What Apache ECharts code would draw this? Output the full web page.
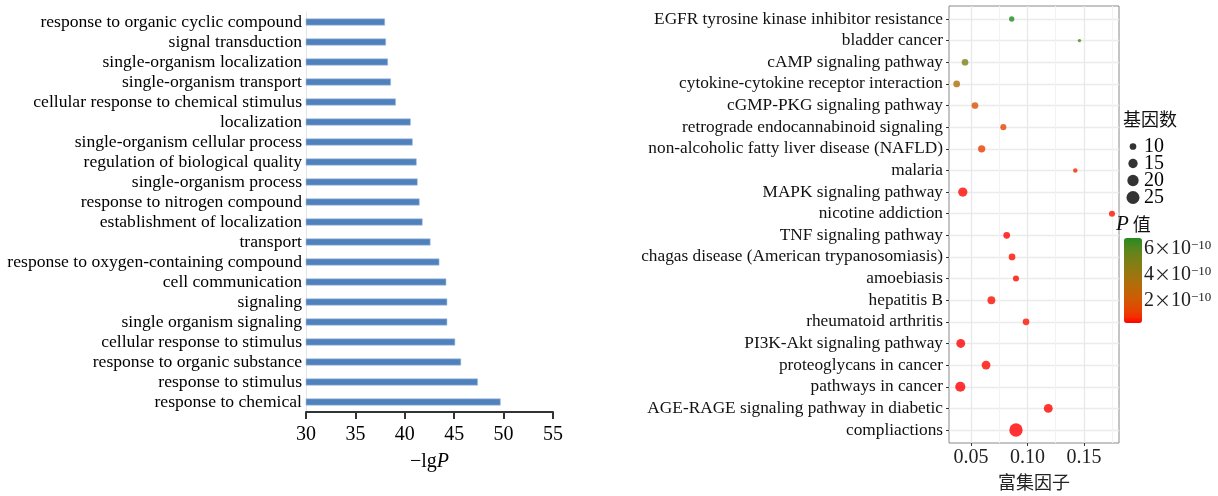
<!DOCTYPE html>
<html>
<head>
<meta charset="utf-8">
<script src="https://cdn.jsdelivr.net/npm/echarts@6/dist/echarts.min.js"></script>
<style>html,body{margin:0;padding:0;background:#fff}#c{width:1218px;height:496px}</style>
</head>
<body>
<div id="c"></div>
<script>
// ---------- Left panel: GO terms (top to bottom) ----------
var goTerms = [
  'response to organic cyclic compound','signal transduction','single-organism localization',
  'single-organism transport','cellular response to chemical stimulus','localization',
  'single-organism cellular process','regulation of biological quality','single-organism process',
  'response to nitrogen compound','establishment of localization','transport',
  'response to oxygen-containing compound','cell communication','signaling',
  'single organism signaling','cellular response to stimulus','response to organic substance',
  'response to stimulus','response to chemical'
];
var goLgP = [38.0,38.1,38.3,38.6,39.1,40.6,40.8,41.2,41.3,41.5,41.8,42.6,43.5,44.2,44.3,44.3,45.1,45.7,47.4,49.7];
var lgPTicks = [30,35,40,45,50,55];

// ---------- Right panel: KEGG pathways (top to bottom) ----------
var keggTerms = [
  'EGFR tyrosine kinase inhibitor resistance','bladder cancer','cAMP signaling pathway',
  'cytokine-cytokine receptor interaction','cGMP-PKG signaling pathway','retrograde endocannabinoid signaling',
  'non-alcoholic fatty liver disease (NAFLD)','malaria','MAPK signaling pathway','nicotine addiction',
  'TNF signaling pathway','chagas disease (American trypanosomiasis)','amoebiasis','hepatitis B',
  'rheumatoid arthritis','PI3K-Akt signaling pathway','proteoglycans in cancer','pathways in cancer',
  'AGE-RAGE signaling pathway in diabetic','compliactions'
];
var richFactor = [0.086,0.146,0.0447,0.0373,0.0535,0.0786,0.0594,0.1423,0.0427,0.1748,0.0816,0.0863,0.0898,0.068,0.0987,0.0409,0.0633,0.0405,0.1184,0.0898];
var geneCount = [8,6,10,10,10,9,11,7,15,9,10,10,9,12,10,14,14,17,14,26];
var pValue = [6.85e-10,6.3e-10,5.0e-10,3.4e-10,1.8e-10,1.4e-10,1.1e-10,0.7e-10,0.4e-10,0.5e-10,0.35e-10,0.45e-10,0.4e-10,0.45e-10,0.5e-10,0.3e-10,0.4e-10,0.3e-10,0.35e-10,0.3e-10];
var factorLabelTicks = [0.05,0.10,0.15];
var factorMinorLines = [0.075,0.125,0.175];
var sizeBreaks = [10,15,20,25];
var pBreaks = [2e-10,4e-10,6e-10];

// ---------- helpers ----------
function sizeOf(n){ return Math.sqrt(Math.max(6, 8.3*n - 38)); }
function hex2rgb(h){ return [parseInt(h.substr(1,2),16),parseInt(h.substr(3,2),16),parseInt(h.substr(5,2),16)]; }
function toLin(c){ c/=255; return c<=0.04045?c/12.92:Math.pow((c+0.055)/1.055,2.4); }
function fromLin(c){ c = c<=0.0031308?12.92*c:1.055*Math.pow(c,1/2.4)-0.055; return Math.max(0,Math.min(255,Math.round(c*255))); }
function rgb2lab(rgb){
  var r=toLin(rgb[0]),g=toLin(rgb[1]),b=toLin(rgb[2]);
  var x=(r*0.4124+g*0.3576+b*0.1805)/0.95047,y=(r*0.2126+g*0.7152+b*0.0722),z=(r*0.0193+g*0.1192+b*0.9505)/1.08883;
  function f(t){return t>0.008856?Math.cbrt(t):7.787*t+16/116;}
  return [116*f(y)-16,500*(f(x)-f(y)),200*(f(y)-f(z))];
}
function lab2hex(l){
  var fy=(l[0]+16)/116,fx=fy+l[1]/500,fz=fy-l[2]/200;
  function fi(t){return t>0.206893?t*t*t:(t-16/116)/7.787;}
  var x=fi(fx)*0.95047,y=fi(fy),z=fi(fz)*1.08883;
  var r=x*3.2406+y*-1.5372+z*-0.4986,g=x*-0.9689+y*1.8758+z*0.0415,b=x*0.0557+y*-0.2040+z*1.0570;
  return '#'+[r,g,b].map(function(c){var v=fromLin(c).toString(16);return v.length<2?'0'+v:v;}).join('');
}
function labRamp(a,b,n){
  var la=rgb2lab(hex2rgb(a)),lb=rgb2lab(hex2rgb(b)),out=[];
  for(var i=0;i<n;i++){var t=i/(n-1);out.push(lab2hex([la[0]+(lb[0]-la[0])*t,la[1]+(lb[1]-la[1])*t,la[2]+(lb[2]-la[2])*t]));}
  return out;
}
var ramp = labRamp('#ff0000','#228b22',15);
var pMin = Math.min.apply(null,pValue), pMax = Math.max.apply(null,pValue);
var idx = keggTerms.map(function(_,i){return i;});
var serif = 'Liberation Serif';

var chart = echarts.init(document.getElementById('c'));
chart.setOption({
  animation:false,
  backgroundColor:'#fff',
  grid:[
    {left:306, top:12, width:247, height:400},
    {left:949, top:6, width:170, height:437, show:true, borderColor:'#8a8a8a', borderWidth:1, backgroundColor:'#fff'},
    {left:1127, top:138, width:12, height:68},
    {left:1124, top:238, width:18, height:85}
  ],
  xAxis:[
    {gridIndex:0, type:'value', min:lgPTicks[0], max:lgPTicks[lgPTicks.length-1], interval:5,
     axisLine:{show:true, onZero:false, lineStyle:{color:'#333', width:2}},
     axisTick:{show:true, length:7, lineStyle:{color:'#333', width:2}},
     axisLabel:{color:'#000', fontFamily:serif, fontSize:20, margin:13},
     splitLine:{show:false},
     name:'{a|−lg}{b|P}', nameLocation:'middle', nameGap:40,
     nameTextStyle:{rich:{a:{fontFamily:serif,fontSize:20,color:'#000'},b:{fontFamily:serif,fontSize:20,fontStyle:'italic',color:'#000'}}}},
    {gridIndex:1, type:'value', min:0.0305, max:0.181, position:'bottom',
     axisLine:{show:false, onZero:false},
     axisTick:{show:true, customValues:factorLabelTicks, length:3, lineStyle:{color:'#333'}},
     axisLabel:{customValues:factorLabelTicks, color:'#222', fontFamily:serif, fontSize:20, margin:5,
       formatter:function(v){return v.toFixed(2);}},
     splitLine:{show:true, lineStyle:{color:'#e8e8e8', width:1.3}},
     name:'富集因子', nameLocation:'middle', nameGap:30,
     nameTextStyle:{fontFamily:'Noto Sans CJK SC', fontSize:18, color:'#222'}},
    {gridIndex:1, type:'value', min:0.0305, max:0.181, position:'bottom',
     axisLine:{show:false, onZero:false}, axisLabel:{show:false},
     axisTick:{show:false, customValues:factorMinorLines},
     splitLine:{show:true, lineStyle:{color:'#f2f2f2', width:1}}},
    {gridIndex:2, type:'category', data:['k'], show:false},
    {gridIndex:3, type:'value', min:0, max:1, show:false}
  ],
  yAxis:[
    {gridIndex:0, type:'category', data:goTerms, inverse:true,
     axisLine:{show:true, lineStyle:{color:'#e6e6e6', width:1}},
     axisTick:{show:false},
     axisLabel:{interval:0, color:'#000', fontFamily:serif, fontSize:17.6, margin:4}},
    {gridIndex:1, type:'value', min:-0.6, max:idx.length-0.4, inverse:true,
     axisLine:{show:false, onZero:false},
     axisTick:{show:true, customValues:idx, length:3, lineStyle:{color:'#333'}},
     axisLabel:{customValues:idx, color:'#111', fontFamily:serif, fontSize:17.3, margin:6,
       formatter:function(v){return keggTerms[Math.round(v)];}},
     splitLine:{show:true, lineStyle:{color:'#ebebeb', width:1.3}}},
    {gridIndex:2, type:'category', data:sizeBreaks.map(String), inverse:true, position:'right',
     axisLine:{show:false}, axisTick:{show:false},
     axisLabel:{interval:0, color:'#000', fontFamily:serif, fontSize:20, margin:5}},
    {gridIndex:3, type:'value', min:pMin, max:pMax, position:'right',
     axisLine:{show:false}, splitLine:{show:false},
     axisTick:{show:true, inside:true, customValues:pBreaks, length:3.5, lineStyle:{color:'#fff', width:1}},
     axisLabel:{customValues:pBreaks, margin:2, color:'#222',
       formatter:function(v){return '{n|'+Math.round(v/1e-10)+'}{x|×}{n|10}{s|−10}';},
       rich:{n:{fontFamily:serif,fontSize:20,color:'#222',lineHeight:20},
             x:{fontFamily:'Noto Sans CJK SC',fontSize:17,color:'#222',lineHeight:20},
             s:{fontFamily:serif,fontSize:13,color:'#222',verticalAlign:'top',lineHeight:12}}}},
    {gridIndex:3, type:'value', min:pMin, max:pMax, position:'left',
     axisLine:{show:false}, splitLine:{show:false}, axisLabel:{show:false},
     axisTick:{show:true, inside:true, customValues:pBreaks, length:3.5, lineStyle:{color:'#fff', width:1}}}
  ],
  visualMap:[{
    type:'continuous', seriesIndex:1, dimension:2, min:pMin, max:pMax,
    inRange:{color:ramp}, calculable:false, show:true, left:1124, top:238,
    itemWidth:18, itemHeight:85, padding:0, text:null, showLabel:false, hoverLink:false, z:1
  }],
  graphic:[
    {type:'text', left:1123, top:110, style:{text:'基因数', font:'18px "Noto Sans CJK SC"', fill:'#111'}},
    {type:'text', left:1116, top:214, style:{text:'{p|P}{z| 值}', rich:{p:{fontFamily:serif,fontStyle:'italic',fontSize:21,fill:'#111'},z:{fontFamily:'Noto Sans CJK SC',fontSize:18,fill:'#111'}}}}
  ],
  series:[
    {type:'bar', xAxisIndex:0, yAxisIndex:0, data:goLgP, barWidth:7,
     itemStyle:{color:'#4f81bd', borderColor:'#a9c1e3', borderWidth:0.6}},
    {type:'scatter', xAxisIndex:1, yAxisIndex:1, z:5,
     data:richFactor.map(function(x,i){return [x,i,pValue[i],geneCount[i]];}),
     symbolSize:function(v){return sizeOf(v[3]);}},
    {type:'scatter', xAxisIndex:3, yAxisIndex:2,
     data:sizeBreaks.map(function(s){return ['k',String(s),s];}),
     symbolSize:function(v){return sizeOf(v[2]);},
     itemStyle:{color:'#000'}}
  ]
});
</script>
</body>
</html>
